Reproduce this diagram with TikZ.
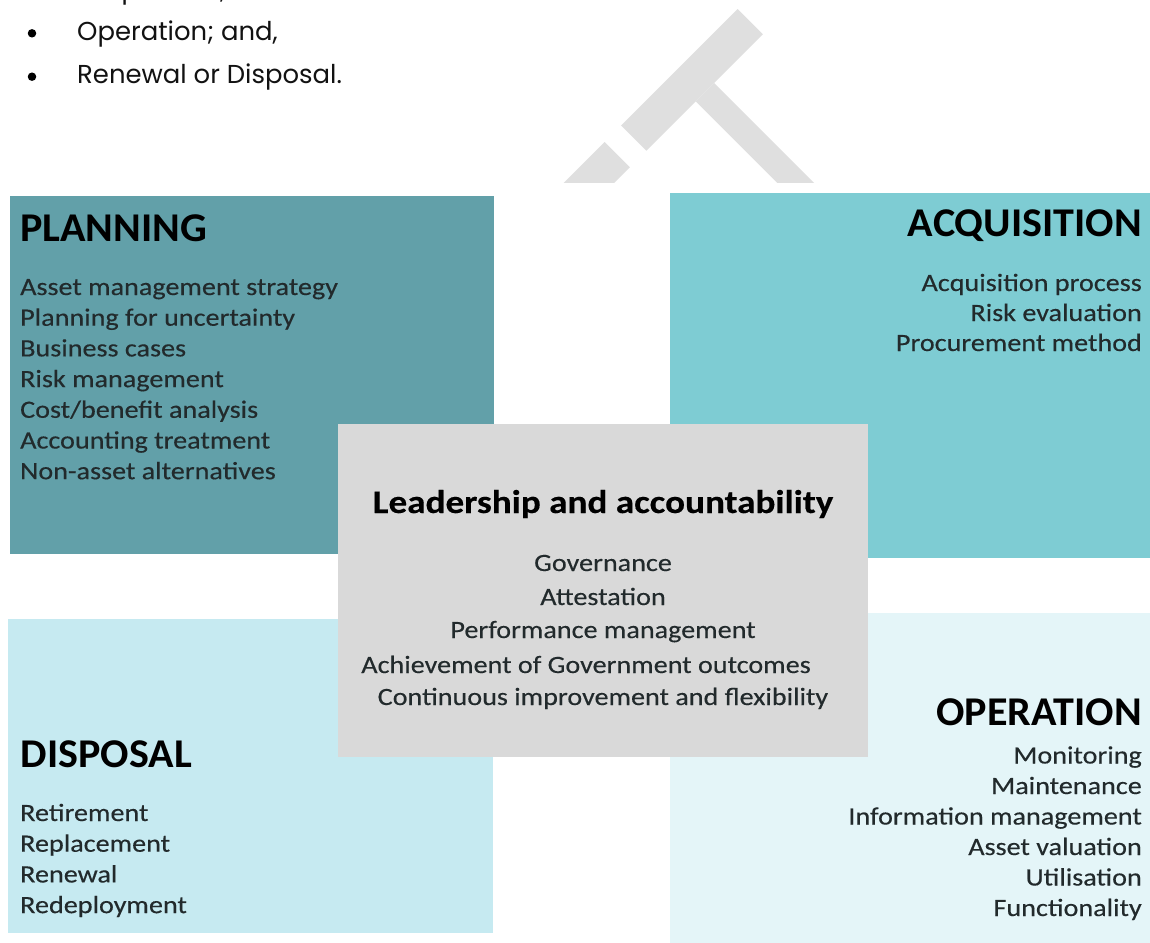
\documentclass[tikz,border=0pt]{standalone}
\usepackage{fontspec}
\setmainfont{Carlito}
\newfontfamily\itemfont{Carlito}[FakeStretch=1.13,FakeBold=0.3]
\newfontfamily\headfont{Carlito}[FakeStretch=1.03]
\newfontfamily\listfont{Poppins}

\definecolor{planfill}{HTML}{62A0A9}
\definecolor{acqfill}{HTML}{7ECCD3}
\definecolor{dispfill}{HTML}{C6EAF1}
\definecolor{opfill}{HTML}{E4F5F8}
\definecolor{leadfill}{HTML}{D9D9D9}
\definecolor{markgray}{HTML}{DFDFDF}
\definecolor{itemtext}{HTML}{222A2C}

\begin{document}
\begin{tikzpicture}[x=1bp,y=-1bp,
  headtext/.style={inner sep=0, text=black,
    font=\headfont\bfseries\fontsize{41}{41}\selectfont},
  leadhead/.style={inner sep=0, text=black,
    font=\itemfont\bfseries\fontsize{33}{33}\selectfont},
  itemtext/.style={inner sep=0, text=itemtext,
    font=\itemfont\fontsize{25}{25}\selectfont},
  listtext/.style={inner sep=0, text=black!93,
    font=\listfont\fontsize{26}{26}\selectfont},
  bulletdot/.style={circle, fill=black, inner sep=0, minimum size=8.5bp}]

\useasboundingbox (0,0) rectangle (1150,943);
\clip (0,0) rectangle (1150,943);
\fill[white] (0,0) rectangle (1150,943);

% faint diagonal watermark strokes behind the page
\begin{scope}
  \clip (0,0) rectangle (1150,182);
  \fill[markgray] (737.7,9) -- (762.85,34.15) -- (646.35,150.65) -- (621.2,125.5) -- cycle;
  \fill[markgray] (714,83) -- (831,200) -- (794.3,200) -- (695.65,101.35) -- cycle;
  \fill[markgray] (604.7,142) -- (629.85,167.15) -- (597,200) -- (546.7,200) -- cycle;
\end{scope}

% bullet list above the diagram (its first line runs off the top edge)
\node[listtext, anchor=base west] (l0) at (77,-1.9) {Acquisition;};
\node[bulletdot] (b1) at (32,33.3) {};
\node[listtext, anchor=base west] (l1) at (77,40.7) {Operation; and,};
\node[bulletdot] (b2) at (32,76.7) {};
\node[listtext, anchor=base west] (l2) at (77,83.3) {Renewal or Disposal.};

% the four quadrant panels
\fill[planfill] (10,196) rectangle (494,554);
\fill[acqfill] (670,193) rectangle (1150,558);
\fill[dispfill] (8,619) rectangle (493,933);
\fill[opfill] (670,613) rectangle (1150,943);

% PLANNING
\node[headtext, anchor=base west] (planhead) at (20,241) {PLANNING};
\foreach \t [count=\i from 0] in {Asset management strategy, Planning for uncertainty,
    Business cases, Risk management, Cost/benefit analysis,
    Accounting treatment, Non-asset alternatives}
  \node[itemtext, anchor=base west] (plan\i) at (20,295+30.7*\i) {\t};

% ACQUISITION
\node[headtext, anchor=base east] (acqhead) at (1142,236) {ACQUISITION};
\foreach \t [count=\i from 0] in {Acquisition process, Risk evaluation, Procurement method}
  \node[itemtext, anchor=base east] (acq\i) at (1142,291+30*\i) {\t};

% DISPOSAL
\node[headtext, anchor=base west] (disphead) at (20.5,767) {DISPOSAL};
\foreach \t [count=\i from 0] in {Retirement, Replacement, Renewal, Redeployment}
  \node[itemtext, anchor=base west] (disp\i) at (20,821+30.7*\i) {\t};

% OPERATION
\node[headtext, anchor=base east] (ophead) at (1142,725) {OPERATION};
\foreach \t [count=\i from 0] in {Monitoring, Maintenance, Information management,
    Asset valuation, Utilisation, Functionality}
  \node[itemtext, anchor=base east] (op\i) at (1142,763.5+30.5*\i) {\t};

% central panel
\fill[leadfill] (338,424) rectangle (868,757);
\node[leadhead, anchor=base] (leadhead) at (603,513) {Leadership and accountability};
\node[itemtext, anchor=base] (lead0) at (603,571) {Governance};
\node[itemtext, anchor=base] (lead1) at (603,605) {Attestation};
\node[itemtext, anchor=base] (lead2) at (603,638) {Performance management};
\node[itemtext, anchor=base] (lead3) at (586,673) {Achievement of Government outcomes};
\node[itemtext, anchor=base] (lead4) at (603,705) {Continuous improvement and flexibility};

\end{tikzpicture}
\end{document}
